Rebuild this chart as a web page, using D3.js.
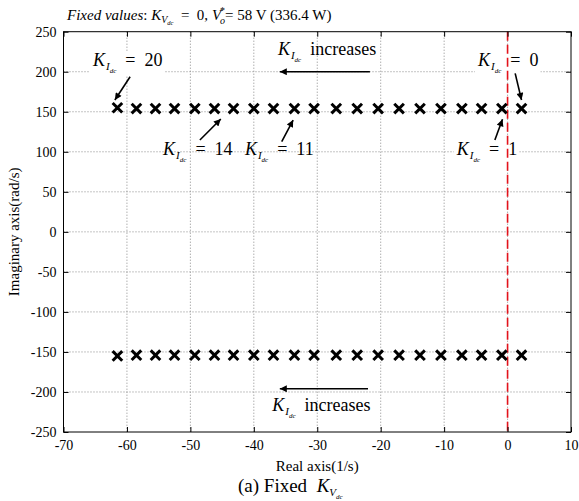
<!DOCTYPE html>
<html>
<head>
<meta charset="utf-8">
<script src="https://cdn.jsdelivr.net/npm/d3@7"></script>
<style>
  html, body { margin: 0; padding: 0; background: #fff; }
  svg { display: block; font-family: "Liberation Serif", "Times New Roman", serif; }
  text { white-space: pre; }
</style>
</head>
<body>
<svg id="chart" width="579" height="501"></svg>
<script>
// Integral gain K_Idc swept from 0 to 20
const gainValues = [0, 1, 2, 3, 4, 5, 6, 7, 8, 9, 10, 11, 12, 13, 14, 15, 16, 17, 18, 19, 20];
// Real part of the dominant pole pair (1/s) for each gain
const poleReal = [2.2, -0.9, -4.1, -7.2, -10.5, -13.8, -17.1, -20.4, -23.7, -27.0, -30.5,
                  -33.6, -36.9, -40.0, -43.2, -46.2, -49.3, -52.5, -55.5, -58.5, -61.5];
// Imaginary part of the upper pole (rad/s); lower pole is its conjugate
const poleImag = [154, 154, 154, 154, 154, 154, 154, 154, 154, 154, 154,
                  154, 154, 154, 154, 154, 154, 154, 154, 154, 155];

const xTicks = [-70, -60, -50, -40, -30, -20, -10, 0, 10];
const yTicks = [-250, -200, -150, -100, -50, 0, 50, 100, 150, 200, 250];

// Gain callouts: label anchor, arrow tail and arrow tip (data units)
const callouts = [
  { k: "20", label: [-65.35, 207.1], tail: [-59.5, 193.8], tip: [-61.9, 164.7], bg: true },
  { k: "14", label: [-54.3, 95.4],  tail: [-48.5, 114.7], tip: [-45.2, 141.0], bg: false },
  { k: "11", label: [-41.4, 95.4],  tail: [-35.6, 112.6], tip: [-33.8, 139.7], bg: false },
  { k: "1",  label: [-8.0, 95.4],   tail: [-2.0, 114.7],  tip: [-0.8, 140.6],  bg: true },
  { k: "0",  label: [-4.66, 207.1], tail: [1.2, 198.0],   tip: [2.2, 164.7],   bg: true }
];
const trendArrows = [
  { label: [-36.2, 220.9], tail: [-21.7, 200.0], tip: [-35.9, 200.0] },
  { label: [-37.1, -223.8], tail: [-22.0, -196.0], tip: [-35.9, -196.0] }
];

const margin = { left: 63.5, right: 8, top: 31.7, bottom: 69 };
const W = 579, H = 501;
const svg = d3.select("#chart");
const x = d3.scaleLinear().domain([-70, 10]).range([margin.left, W - margin.right]);
const y = d3.scaleLinear().domain([-250, 250]).range([H - margin.bottom, margin.top]);
const [x0, x1] = x.range();
const [y0, y1] = [y.range()[1], y.range()[0]];

// arrowhead marker
svg.append("defs").append("marker")
  .attr("id", "head").attr("viewBox", "0 0 10 10")
  .attr("refX", 10).attr("refY", 5)
  .attr("markerWidth", 10).attr("markerHeight", 7)
  .attr("markerUnits", "userSpaceOnUse")
  .attr("orient", "auto")
  .append("path").attr("d", "M0,0 L10,5 L0,10 Z").attr("fill", "#000");

// dotted grid
const grid = svg.append("g").attr("stroke", "#8a8a8a").attr("stroke-width", 1)
  .attr("stroke-dasharray", "1,2");
grid.selectAll(".gx").data(xTicks.slice(1, -1)).join("line")
  .attr("x1", d => x(d)).attr("x2", d => x(d)).attr("y1", y0).attr("y2", y1);
grid.selectAll(".gy").data(yTicks.slice(1, -1)).join("line")
  .attr("y1", d => y(d)).attr("y2", d => y(d)).attr("x1", x0).attr("x2", x1);

// label builder: K with nested subscript, then trailing text
function kLabel(g, px, py, sub, subsub, rest) {
  const t = g.append("text").attr("x", px).attr("y", py).attr("font-size", 18);
  t.append("tspan").attr("font-style", "italic").text("K");
  t.append("tspan").attr("font-style", "italic").attr("font-size", 11).attr("dx", 1).attr("dy", 4).text(sub);
  t.append("tspan").attr("font-style", "italic").attr("font-size", 7).attr("dy", 3).text(subsub);
  t.append("tspan").attr("dy", -7).text(rest);
  return t;
}

const bgLayer = svg.append("g");
const refLayer = svg.append("g");
const markLayer = svg.append("g");
const textLayer = svg.append("g");

// callout labels
callouts.forEach(c => {
  const t = kLabel(textLayer, x(c.label[0]), y(c.label[1]), "I", "dc", "  =  " + c.k);
  if (c.bg) {
    const b = t.node().getBBox();
    bgLayer.append("rect").attr("x", b.x - 2).attr("y", b.y + 2)
      .attr("width", b.width + 4).attr("height", b.height - 2).attr("fill", "#fff");
  }
  textLayer.append("line")
    .attr("x1", x(c.tail[0])).attr("y1", y(c.tail[1]))
    .attr("x2", x(c.tip[0])).attr("y2", y(c.tip[1]))
    .attr("stroke", "#000").attr("stroke-width", 1.6).attr("marker-end", "url(#head)");
});
trendArrows.forEach(a => {
  kLabel(textLayer, x(a.label[0]), y(a.label[1]), "I", "dc", "  increases");
  textLayer.append("line")
    .attr("x1", x(a.tail[0])).attr("y1", y(a.tail[1]))
    .attr("x2", x(a.tip[0])).attr("y2", y(a.tip[1]))
    .attr("stroke", "#000").attr("stroke-width", 1.6).attr("marker-end", "url(#head)");
});

// imaginary axis reference
refLayer.append("line")
  .attr("x1", x(0)).attr("x2", x(0)).attr("y1", y0).attr("y2", y1)
  .attr("stroke", "#e3121b").attr("stroke-width", 1.6).attr("stroke-dasharray", "9,4");

// pole markers (upper and conjugate lower)
const poles = [];
gainValues.forEach((k, i) => {
  poles.push({ re: poleReal[i], im: poleImag[i] });
  poles.push({ re: poleReal[i], im: -poleImag[i] });
});
const s = 4.8;
markLayer.selectAll("path").data(poles).join("path")
  .attr("d", d => {
    const cx = x(d.re), cy = y(d.im);
    return `M${cx - s},${cy - s}L${cx + s},${cy + s}M${cx - s},${cy + s}L${cx + s},${cy - s}`;
  })
  .attr("stroke", "#000").attr("stroke-width", 3).attr("fill", "none");

// axes with inward ticks
const fmt = d => String(d);
const axB = svg.append("g").attr("transform", `translate(0,${y1})`)
  .call(d3.axisBottom(x).tickValues(xTicks).tickSizeInner(-5).tickSizeOuter(0).tickPadding(8).tickFormat(fmt));
const axT = svg.append("g").attr("transform", `translate(0,${y0})`)
  .call(d3.axisTop(x).tickValues(xTicks).tickSizeInner(-5).tickSizeOuter(0).tickFormat(""));
const axL = svg.append("g").attr("transform", `translate(${x0},0)`)
  .call(d3.axisLeft(y).tickValues(yTicks).tickSizeInner(-5).tickSizeOuter(0).tickPadding(7).tickFormat(fmt));
const axR = svg.append("g").attr("transform", `translate(${x1},0)`)
  .call(d3.axisRight(y).tickValues(yTicks).tickSizeInner(-5).tickSizeOuter(0).tickFormat(""));
[axB, axT, axL, axR].forEach(a => {
  a.attr("font-family", null);
  a.select(".domain").remove();
  a.selectAll("line").attr("stroke", "#000");
  a.selectAll("text").attr("font-family", "Liberation Serif, serif").attr("font-size", 14).attr("fill", "#000");
});
svg.append("rect").attr("x", x0).attr("y", y0).attr("width", x1 - x0).attr("height", y1 - y0)
  .attr("fill", "none").attr("stroke", "#000").attr("stroke-width", 1);

// axis titles
svg.append("text").attr("x", (x0 + x1) / 2).attr("y", 471).attr("text-anchor", "middle")
  .attr("font-size", 15).text("Real axis(1/s)");
svg.append("text").attr("transform", `translate(18.5,${(y0 + y1) / 2}) rotate(-90)`)
  .attr("text-anchor", "middle").attr("font-size", 15).text("Imaginary axis(rad/s)");

// caption
const cap = svg.append("text").attr("x", 238).attr("y", 492).attr("font-size", 19);
cap.append("tspan").text("(a) Fixed  ");
cap.append("tspan").attr("font-style", "italic").text("K");
cap.append("tspan").attr("font-style", "italic").attr("font-size", 11).attr("dy", 4).text("V");
cap.append("tspan").attr("font-style", "italic").attr("font-size", 7).attr("dy", 3).text("dc");

// fixed-parameter header
const hd = svg.append("text").attr("x", 67).attr("y", 20).attr("font-size", 15);
hd.append("tspan").attr("font-style", "italic").text("Fixed values");
hd.append("tspan").text(": ");
hd.append("tspan").attr("font-style", "italic").text("K");
hd.append("tspan").attr("font-style", "italic").attr("font-size", 10).attr("dy", 3).text("V");
hd.append("tspan").attr("font-style", "italic").attr("font-size", 6.5).attr("dy", 2).text("dc");
hd.append("tspan").attr("dy", -5).text("  =  0, ");
hd.append("tspan").attr("font-style", "italic").text("V");
hd.append("tspan").attr("font-size", 10).attr("dx", -1).attr("dy", -6).text("*");
hd.append("tspan").attr("font-style", "italic").attr("font-size", 10).attr("dx", -5).attr("dy", 10).text("o");
hd.append("tspan").attr("dy", -4).text("= 58 V (336.4 W)");
</script>
</body>
</html>
